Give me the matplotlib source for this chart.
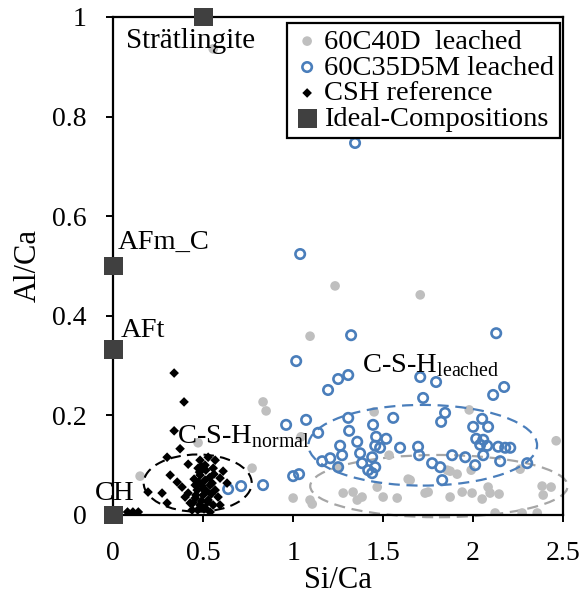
import matplotlib
matplotlib.use("Agg")
import matplotlib.pyplot as plt
from matplotlib.patches import Ellipse

plt.rcParams['font.family'] = ['Liberation Serif', 'DejaVu Serif']
plt.rcParams['mathtext.fontset'] = 'custom'
plt.rcParams['mathtext.rm'] = 'Liberation Serif'

# 60C40D leached (grey dots)
gray_x = [0.556, 1.233, 1.706, 1.094, 0.833, 0.850, 1.450, 1.978, 2.461, 0.472, 0.150, 0.772,
          1.044, 1.533, 1.639, 1.250, 1.000, 1.094, 1.106, 1.278, 1.333, 1.383, 1.467, 1.500,
          1.578, 1.650, 1.733, 1.750, 1.872, 1.911, 1.989, 2.261, 1.872, 1.939, 1.994, 2.050,
          2.083, 2.094, 2.144, 2.383, 2.433, 2.389, 2.122, 2.272, 2.356, 1.856, 1.356]
gray_y = [0.936, 0.460, 0.442, 0.359, 0.227, 0.209, 0.207, 0.211, 0.149, 0.145, 0.078, 0.094,
          0.157, 0.120, 0.072, 0.096, 0.034, 0.030, 0.022, 0.044, 0.046, 0.036, 0.056, 0.036,
          0.034, 0.070, 0.044, 0.046, 0.088, 0.082, 0.090, 0.092, 0.036, 0.046, 0.044, 0.032,
          0.056, 0.044, 0.042, 0.058, 0.056, 0.040, 0.004, 0.004, 0.004, 0.090, 0.030]

# 60C35D5M leached (blue open circles)
blue_x = [1.344, 1.039, 1.322, 2.128, 1.017, 1.194, 1.250, 1.306, 1.706, 1.794, 2.111, 2.172,
          1.722, 0.961, 1.072, 1.139, 1.306, 1.311, 1.444, 1.556, 1.844, 1.822, 2.000, 2.050,
          2.083, 2.017, 2.056, 2.039, 2.078, 2.056, 2.139, 2.178, 2.206, 2.300, 2.150, 2.011,
          1.956, 1.883, 1.817, 1.772, 1.694, 1.594, 1.828, 1.461, 1.517, 1.456, 1.483, 1.356,
          1.372, 1.261, 1.272, 1.206, 1.161, 1.250, 1.383, 1.439, 1.456, 1.417, 1.439, 1.000,
          1.033, 0.833, 0.711, 0.639, 1.700]
blue_y = [0.747, 0.524, 0.361, 0.365, 0.309, 0.251, 0.273, 0.281, 0.277, 0.267, 0.241, 0.257,
          0.235, 0.181, 0.191, 0.165, 0.195, 0.169, 0.181, 0.195, 0.205, 0.187, 0.177, 0.193,
          0.177, 0.153, 0.151, 0.141, 0.139, 0.120, 0.137, 0.135, 0.135, 0.104, 0.108, 0.100,
          0.116, 0.120, 0.096, 0.104, 0.137, 0.135, 0.070, 0.157, 0.153, 0.139, 0.135, 0.147,
          0.124, 0.139, 0.120, 0.114, 0.108, 0.096, 0.104, 0.116, 0.096, 0.090, 0.084, 0.078,
          0.082, 0.060, 0.058, 0.052, 0.120]

# CSH reference (black diamonds)
csh_x = [0.339, 0.394, 0.339, 0.372, 0.300, 0.417, 0.483, 0.528, 0.472, 0.556, 0.611, 0.317,
         0.356, 0.383, 0.194, 0.272, 0.300, 0.400, 0.428, 0.483, 0.511, 0.539, 0.467, 0.500,
         0.528, 0.556, 0.483, 0.456, 0.567, 0.583, 0.511, 0.439, 0.539, 0.594, 0.633, 0.594,
         0.456, 0.417, 0.511, 0.567, 0.0, 0.08, 0.11, 0.14,
         0.450, 0.475, 0.495, 0.520, 0.545, 0.490, 0.515, 0.460, 0.535, 0.505, 0.470, 0.550,
         0.525, 0.480, 0.500, 0.445, 0.560, 0.490]
csh_y = [0.285, 0.227, 0.169, 0.133, 0.116, 0.102, 0.110, 0.116, 0.094, 0.094, 0.088, 0.080,
         0.066, 0.056, 0.046, 0.044, 0.024, 0.036, 0.024, 0.080, 0.070, 0.060, 0.050, 0.040,
         0.030, 0.020, 0.020, 0.034, 0.050, 0.036, 0.014, 0.010, 0.006, 0.020, 0.064, 0.074,
         0.060, 0.044, 0.100, 0.110, 0.0, 0.006, 0.006, 0.006,
         0.072, 0.066, 0.058, 0.048, 0.042, 0.028, 0.090, 0.040, 0.075, 0.012, 0.010, 0.064,
         0.026, 0.086, 0.052, 0.025, 0.082, 0.098]

# Ideal compositions (squares)
ideal_x = [0.0, 0.0, 0.0, 0.5]
ideal_y = [0.0, 0.333, 0.5, 1.0]
ideal_labels = ["CH", "AFt", "AFm_C", "Strätlingite"]

fig = plt.figure(figsize=(5.83, 6.0), dpi=100)
ax = fig.add_axes([0.194, 0.1417, 0.772, 0.83])

ax.scatter(gray_x, gray_y, s=48, color='#BFBFBF', edgecolors='none', zorder=2,
           label='60C40D  leached')
ax.scatter(blue_x, blue_y, s=46, facecolors='none', edgecolors='#4A7EBB', linewidths=1.9,
           zorder=3, label='60C35D5M leached')
ax.scatter(csh_x, csh_y, s=24, marker='D', color='black', edgecolors='none', zorder=4,
           label='CSH reference')
ax.scatter(ideal_x, ideal_y, s=185, marker='s', color='#404040', edgecolors='none', zorder=5,
           clip_on=False, label='Ideal-Compositions')

# dashed ellipses
ax.add_patch(Ellipse((0.47, 0.064), 0.60, 0.115, fill=False, ls=(0, (5, 3)), lw=1.5,
                     edgecolor='black', zorder=6))
ax.add_patch(Ellipse((1.72, 0.14), 1.27, 0.162, fill=False, ls=(0, (5, 3)), lw=1.6,
                     edgecolor='#4A7EBB', zorder=6))
ax.add_patch(Ellipse((1.81, 0.058), 1.43, 0.125, fill=False, ls=(0, (5, 3)), lw=1.6,
                     edgecolor='#A6A6A6', zorder=1, clip_on=False))

fs = 20.5
ax.text(ideal_x[3] - 0.428, 0.938, ideal_labels[3], fontsize=21, va='baseline', ha='left', zorder=7)
ax.text(0.028, 0.534, ideal_labels[2], fontsize=fs, va='baseline', ha='left')
ax.text(0.04, 0.357, ideal_labels[1], fontsize=fs, va='baseline', ha='left')
ax.text(-0.1, 0.030, ideal_labels[0], fontsize=fs, va='baseline', ha='left')
ax.text(0.356, 0.145, r"C-S-H$_\mathregular{normal}$", fontsize=fs, va='baseline', ha='left', zorder=7)
ax.text(1.383, 0.287, r"C-S-H$_\mathregular{leached}$", fontsize=fs, va='baseline', ha='left')

ax.set_xlim(0, 2.5)
ax.set_ylim(0, 1)
ax.set_xticks([0, 0.5, 1, 1.5, 2, 2.5])
ax.set_xticklabels(['0', '0.5', '1', '1.5', '2', '2.5'])
ax.set_yticks([0, 0.2, 0.4, 0.6, 0.8, 1])
ax.set_yticklabels(['0', '0.2', '0.4', '0.6', '0.8', '1'])
ax.tick_params(labelsize=20, direction='out', length=5, width=1.4)
ax.tick_params(axis='y', pad=14)
ax.tick_params(axis='x', pad=14)
for s in ax.spines.values():
    s.set_linewidth(1.6)
ax.set_xlabel("Si/Ca", fontsize=22, labelpad=0)
ax.set_ylabel("Al/Ca", fontsize=22, labelpad=7)

leg = ax.legend(loc='upper right', bbox_to_anchor=(0.993, 0.988), fontsize=20.5,
                frameon=True, fancybox=False, edgecolor='black', framealpha=1,
                handletextpad=0.1, handlelength=1.0, labelspacing=0.0, borderpad=0.2,
                borderaxespad=0, scatterpoints=1)
leg.get_frame().set_linewidth(1.6)
leg.set_zorder(10)

fig.savefig("out.png", dpi=100)
